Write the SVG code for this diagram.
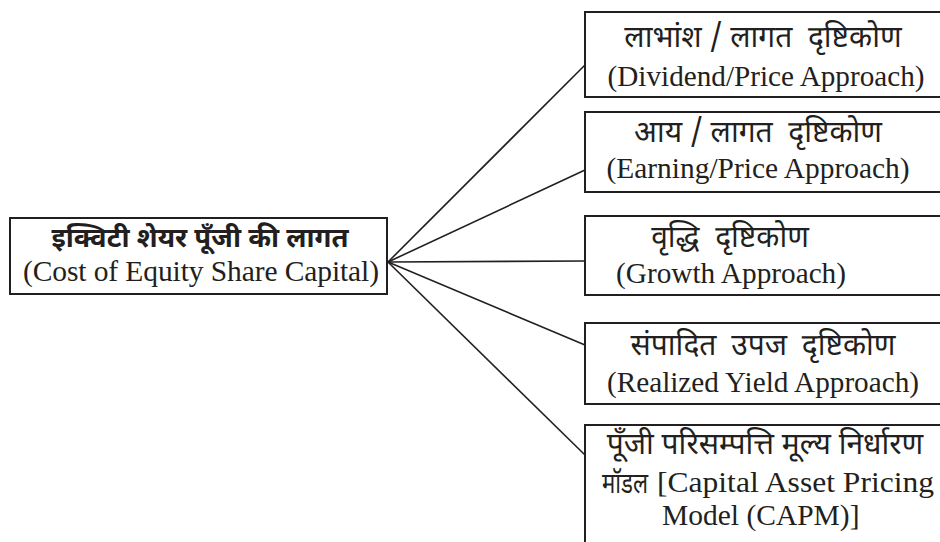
<svg xmlns="http://www.w3.org/2000/svg" width="940" height="542" viewBox="0 0 940 542">
  <style>
    .box { fill: #ffffff; stroke: #231f20; stroke-width: 2; }
    .link { stroke: #231f20; stroke-width: 1.6; fill: none; }
    .en { font-family: "Liberation Serif", "Times New Roman", serif; font-size: 29.5px; fill: #231f20; text-anchor: middle; }
    .hi { font-family: "Noto Sans Devanagari", "Noto Sans", "Noto Serif Devanagari", sans-serif; font-size: 30px; fill: #231f20; text-anchor: middle; white-space: pre; }
    .hib { font-weight: bold; font-size: 27.5px; }
    .start { text-anchor: start; }
  </style>
  <rect width="940" height="542" fill="#ffffff"/>

  <g id="connectors">
    <line class="link" x1="388" y1="262" x2="585" y2="65"/>
    <line class="link" x1="388" y1="262" x2="585" y2="170"/>
    <line class="link" x1="388" y1="262" x2="585" y2="261"/>
    <line class="link" x1="388" y1="262" x2="585" y2="345"/>
    <line class="link" x1="388" y1="262" x2="585" y2="455"/>
  </g>

  <g id="cost-of-equity">
    <rect class="box" x="10" y="218" width="377" height="76"/>
    <text class="hi hib" x="200" y="247">इक्विटी शेयर पूँजी की लागत</text>
    <text class="en" x="201" y="281" textLength="356" lengthAdjust="spacing">(Cost of Equity Share Capital)</text>
  </g>

  <g id="dividend-price">
    <rect class="box" x="585" y="12" width="366" height="85"/>
    <text class="hi" x="763" y="47">लाभांश / लागत  दृष्टिकोण</text>
    <text class="en" x="766" y="86" textLength="317" lengthAdjust="spacingAndGlyphs">(Dividend/Price Approach)</text>
  </g>

  <g id="earning-price">
    <rect class="box" x="585" y="112" width="366" height="80"/>
    <text class="hi" x="758" y="142">आय / लागत  दृष्टिकोण</text>
    <text class="en" x="758" y="178" textLength="303" lengthAdjust="spacingAndGlyphs">(Earning/Price Approach)</text>
  </g>

  <g id="growth">
    <rect class="box" x="585" y="216" width="366" height="79"/>
    <text class="hi" x="730" y="247">वृद्धि  दृष्टिकोण</text>
    <text class="en" x="731" y="283" textLength="230" lengthAdjust="spacingAndGlyphs">(Growth Approach)</text>
  </g>

  <g id="realized-yield">
    <rect class="box" x="585" y="323" width="366" height="81"/>
    <text class="hi" x="763" y="355" word-spacing="7">संपादित उपज दृष्टिकोण</text>
    <text class="en" x="763" y="392" textLength="312" lengthAdjust="spacingAndGlyphs">(Realized Yield Approach)</text>
  </g>

  <g id="capm">
    <rect class="box" x="585" y="425" width="366" height="130"/>
    <text class="hi" x="765" y="454">पूँजी परिसम्पत्ति मूल्य निर्धारण</text>
    <text class="hi start" x="602" y="493" style="font-size:28px" textLength="46" lengthAdjust="spacingAndGlyphs">मॉडल</text>
    <text class="en start" x="657" y="492" textLength="277" lengthAdjust="spacingAndGlyphs">[Capital Asset Pricing</text>
    <text class="en start" x="662" y="525">Model (CAPM)]</text>
  </g>
</svg>
